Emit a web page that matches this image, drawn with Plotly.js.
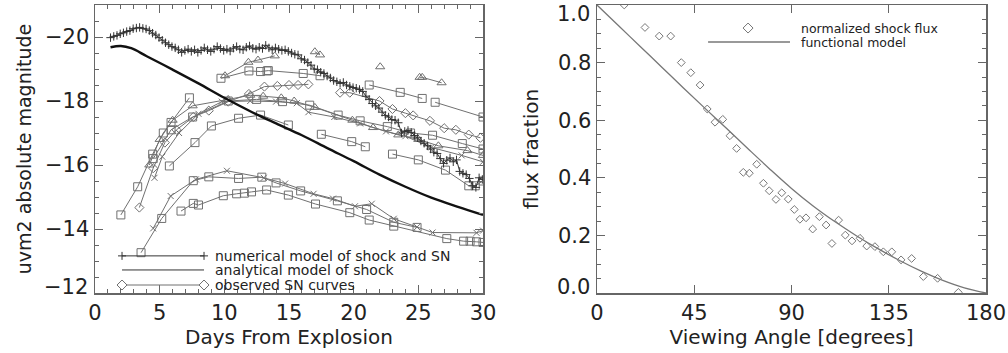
<!DOCTYPE html>
<html><head><meta charset="utf-8">
<script src="https://cdn.plot.ly/plotly-3.0.1.min.js"></script>
<style>html,body{margin:0;padding:0;background:#fff}#c{width:1008px;height:353px}</style>
</head><body><div id="c"></div>
<script>
// ---- Left panel: numerical model of shock and SN ----
const numDays = [1.2,1.45,1.7,1.95,2.2,2.45,2.7,2.95,3.2,3.45,3.7,3.95,4.2,4.45,4.7,4.95,5.2,5.45,5.7,5.95,6.2,6.45,6.7,6.95,7.2,7.45,7.7,7.95,8.2,8.45,8.7,8.95,9.2,9.45,9.7,9.95,10.2,10.45,10.7,10.95,11.2,11.45,11.7,11.95,12.2,12.45,12.7,12.95,13.2,13.45,13.7,13.95,14.2,14.45,14.7,14.95,15.2,15.45,15.7,15.95,16.2,16.45,16.7,16.95,17.2,17.45,17.7,17.95,18.2,18.45,18.7,18.95,19.2,19.45,19.7,19.95,20.2,20.45,20.7,20.95,21.2,21.45,21.7,21.95,22.2,22.45,22.7,22.95,23.2,23.45,23.7,23.95,24.2,24.45,24.7,24.95,25.2,25.45,25.7,25.95,26.2,26.45,26.7,26.95,27.2,27.45,27.7,27.95,28.2,28.45,28.7,28.95,29.2,29.45,29.7,29.95];
const numMag  = [-19.98,-20.02,-20.05,-20.1,-20.13,-20.17,-20.2,-20.26,-20.28,-20.3,-20.27,-20.25,-20.2,-20.12,-20.06,-19.98,-19.9,-19.82,-19.76,-19.7,-19.66,-19.6,-19.52,-19.58,-19.62,-19.55,-19.6,-19.52,-19.58,-19.66,-19.6,-19.55,-19.62,-19.7,-19.64,-19.58,-19.62,-19.56,-19.65,-19.7,-19.62,-19.6,-19.68,-19.72,-19.65,-19.62,-19.68,-19.64,-19.74,-19.66,-19.6,-19.66,-19.62,-19.58,-19.6,-19.55,-19.5,-19.46,-19.44,-19.32,-19.28,-19.2,-19.12,-19.0,-18.98,-18.9,-18.86,-18.78,-18.72,-18.64,-18.6,-18.55,-18.58,-18.5,-18.46,-18.42,-18.4,-18.36,-18.3,-18.15,-18.05,-17.92,-17.85,-17.78,-17.65,-17.55,-17.5,-17.42,-17.4,-17.32,-17.0,-17.05,-17.08,-17.02,-16.92,-16.85,-16.75,-16.68,-16.6,-16.5,-16.4,-16.36,-16.2,-16.05,-16.15,-16.22,-16.1,-16.16,-15.8,-15.74,-15.7,-15.58,-15.35,-15.3,-15.6,-15.55];
// analytical model of shock
const anaDays = [1.2,2.0,2.8,4,6,8,10,12,14,16,18,20,22,24,26,28,30];
const anaMag  = [-19.68,-19.72,-19.65,-19.4,-18.98,-18.55,-18.1,-17.68,-17.3,-16.93,-16.52,-16.12,-15.7,-15.32,-14.98,-14.7,-14.44];
// observed SN curves (null = gap in coverage)
const sqA_d = [2.0,3.3,4.46,5.28,5.88,7.3];
const sqA_m = [-14.44,-15.32,-16.34,-17.0,-17.33,-18.1];
const diA_d = [3.43,4.5,5.4,6.3,7.6,8.8,10.3,11.9,13.1,14.1,15.0,15.7,16.5,null,18.95,19.7,22.0,23.0,24.0,24.6,25.9,27.0,27.9,28.9,29.8];
const diA_m = [-14.67,-15.9,-16.7,-17.1,-17.5,-17.7,-17.98,-18.22,-18.45,-18.47,-18.5,-18.5,-18.52,null,-18.26,-18.26,-18.0,-17.75,-17.62,-17.55,-17.38,-17.15,-17.1,-16.95,-16.85];
const trA_d = [4.2,5.0,6.0,7.55,10.3,12.0,13.0,14.4,15.4,17.0,19.9,21.5,23.45,25.0,26.55,28.8,30.0];
const trA_m = [-16.0,-16.8,-17.4,-17.85,-18.05,-18.18,-18.15,-18.1,-18.0,-17.8,-17.4,-17.17,-16.94,-16.8,-16.6,-16.45,-16.3];
const sqB_d = [9.74,11.9,12.8,13.3,13.4,16.1,17.4,null,21.2,23.6,25.3,null,26.3,30.0];
const sqB_m = [-18.71,-18.94,-18.92,-18.94,-18.95,-18.86,-18.79,null,-18.5,-18.27,-18.08,null,-17.96,-17.5];
const trB_d = [10.05,11.86,12.6,13.9,null,17.0,17.4,null,22.05,null,25.1,25.3,26.8];
const trB_m = [-18.79,-19.21,-19.28,-19.41,null,-19.54,-19.44,null,-19.07,null,-18.74,-18.74,-18.57];
const sqC_d = [5.75,7.73,9.0,11.1,12.8,14.95,null,17.5,19.85,20.9];
const sqC_m = [-15.97,-16.7,-17.22,-17.46,-17.56,-17.25,null,-16.96,-16.73,-16.57];
const sqD_d = [4.5,5.88,7.55,10.3,12.5,14.5,16.6,18.8,20.5,22.6,24.4,26.1,28.4,30.0];
const sqD_m = [-16.2,-17.1,-17.5,-18.0,-18.05,-17.98,-17.87,-17.56,-17.38,-17.2,-17.0,-16.93,-16.67,-16.5];
const xA_d  = [4.6,5.2,6.5,8.0,9.8,12.0,14.0,15.6,16.5,18.5,20.5,22.5,24.0,26.0,28.35,30.0];
const xA_m  = [-15.6,-16.26,-17.0,-17.6,-17.98,-18.0,-17.98,-17.93,-17.65,-17.5,-17.3,-17.05,-16.9,-16.55,-16.3,-16.1];
const sqE_d = [23.0,25.0,27.1,28.9,29.4,30.0];
const sqE_m = [-16.34,-16.16,-15.84,-15.35,-15.35,-15.5];
const xB_d  = [4.5,5.85,7.8,10.2,13.05,14.7,16.9,18.4,20.1,21.4,23.1,24.9,26.1,29.5,30.0];
const xB_m  = [-14.02,-15.03,-15.55,-15.82,-15.6,-15.42,-15.1,-14.95,-14.71,-14.79,-14.32,-14.06,-13.89,-13.88,-13.95];
const sqF_d = [3.56,5.16,7.6,8.8,11.1,12.9,14.0,15.9,18.74,21.0,23.1,24.9];
const sqF_m = [-13.26,-14.33,-15.51,-15.63,-15.58,-15.62,-15.44,-15.19,-14.88,-14.61,-14.21,-14.05];
const sqG_d = [6.65,7.6,8.0,9.92,10.95,11.55,12.1,13.27,14.95,17.05,19.7,21.2,23.1,27.2,28.5,29.0,29.5,30.0];
const sqG_m = [-14.56,-14.8,-14.75,-15.04,-15.1,-15.12,-15.16,-15.22,-15.06,-14.78,-14.51,-14.28,-14.09,-13.7,-13.62,-13.62,-13.6,-13.58];
// ---- Right panel ----
const angDiamond = [12.6,22.2,28.8,34.1,39.0,43.4,47.7,51.0,54.6,58.2,61.5,64.6,67.7,70.5,73.9,77.0,79.7,82.8,85.5,88.5,91.3,93.9,96.7,99.8,102.9,106.0,108.7,111.8,114.9,118.0,121.7,124.8,128.6,132.5,136.4,140.7,145.6,151.0,157.6,167.2];
const fluxDiamond = [1.0,0.922,0.892,0.892,0.80,0.765,0.722,0.639,0.593,0.603,0.546,0.502,0.419,0.416,0.447,0.381,0.355,0.325,0.348,0.326,0.29,0.256,0.261,0.222,0.265,0.236,0.172,0.253,0.201,0.181,0.19,0.163,0.161,0.143,0.143,0.115,0.12,0.057,0.051,0.002];
const angModel = [0,10,20,30,40,50,60,70,80,90,100,110,120,130,140,150,160,170,180];
const fluxModel = [1.0,0.928,0.856,0.784,0.712,0.641,0.571,0.50,0.43,0.363,0.302,0.248,0.199,0.154,0.113,0.076,0.044,0.018,0.0];

const leftXTicks = [0,5,10,15,20,25,30];
const leftYTicks = [-20,-18,-16,-14,-12];
const leftYText  = ['\u221220','\u221218','\u221216','\u221214',''];
const rightXTicks = [0,45,90,135,180];
const rightYTicks = [0,0.2,0.4,0.6,0.8,1.0];
const rightYText  = ['','0.2','0.4','0.6','0.8',''];

const OBS = '#707070';
function obs(d, m, sym, size){
  return {x:d, y:m, mode:'lines+markers', type:'scatter', xaxis:'x', yaxis:'y', connectgaps:false, showlegend:false, hoverinfo:'skip',
    line:{color:OBS, width:1}, marker:{symbol:sym, size:size, color:OBS, line:{color:OBS, width:1}}};
}
const traces = [
  obs(sqA_d, sqA_m, 'square-open', 8),
  obs(diA_d, diA_m, 'diamond-open', 7),
  obs(trA_d, trA_m, 'triangle-up-open', 8),
  obs(sqB_d, sqB_m, 'square-open', 8),
  obs(trB_d, trB_m, 'triangle-up-open', 8),
  obs(sqC_d, sqC_m, 'square-open', 8),
  obs(sqD_d, sqD_m, 'square-open', 8),
  obs(xA_d, xA_m, 'x-thin-open', 6),
  obs(sqE_d, sqE_m, 'square-open', 8),
  obs(xB_d, xB_m, 'x-thin-open', 6),
  obs(sqF_d, sqF_m, 'square-open', 8),
  obs(sqG_d, sqG_m, 'square-open', 8),
  {x:anaDays, y:anaMag, mode:'lines', line:{color:'#111', width:2.4, shape:'spline'}, xaxis:'x', yaxis:'y', showlegend:false, hoverinfo:'skip'},
  {x:numDays, y:numMag, mode:'lines+markers', line:{color:'#333', width:1}, marker:{symbol:'cross-thin-open', size:6, line:{color:'#333', width:1}}, xaxis:'x', yaxis:'y', showlegend:false, hoverinfo:'skip'},
  {x:angModel, y:fluxModel, mode:'lines', line:{color:'#777', width:1.3, shape:'spline'}, xaxis:'x2', yaxis:'y2', showlegend:false, hoverinfo:'skip'},
  {x:angDiamond, y:fluxDiamond, mode:'markers', marker:{symbol:'diamond-open', size:6, color:'#777', line:{color:'#777', width:1}}, xaxis:'x2', yaxis:'y2', showlegend:false, hoverinfo:'skip'}
];

const AX = '#666', TXT = '#222';
const TF = {family:'DejaVu Sans, sans-serif', size:21, color:TXT};
function axis(extra){
  return Object.assign({showgrid:false, zeroline:false, showline:true, linecolor:AX, linewidth:1.5, mirror:'allticks',
    ticks:'inside', tickcolor:AX, tickwidth:1, ticklen:8, tickfont:TF}, extra);
}
function plusPath(){ return 'M-4,0 L4,0 M0,-4 L0,4'; }
function diaPath(){ return 'M0,-5 L5,0 L0,5 L-5,0 Z'; }
const shapes = [
  {type:'line', xref:'x', yref:'y', x0:2.09, x1:8.43, y0:-13.16, y1:-13.16, line:{color:'#333', width:1}},
  {type:'path', xref:'x', yref:'y', xsizemode:'pixel', ysizemode:'pixel', xanchor:2.09, yanchor:-13.16, path:plusPath(), line:{color:'#333', width:1}},
  {type:'path', xref:'x', yref:'y', xsizemode:'pixel', ysizemode:'pixel', xanchor:8.43, yanchor:-13.16, path:plusPath(), line:{color:'#333', width:1}},
  {type:'line', xref:'x', yref:'y', x0:2.09, x1:8.43, y0:-12.72, y1:-12.72, line:{color:'#333', width:1}},
  {type:'line', xref:'x', yref:'y', x0:2.09, x1:8.43, y0:-12.25, y1:-12.25, line:{color:OBS, width:1}},
  {type:'path', xref:'x', yref:'y', xsizemode:'pixel', ysizemode:'pixel', xanchor:2.09, yanchor:-12.25, path:diaPath(), line:{color:OBS, width:1}, fillcolor:'white'},
  {type:'path', xref:'x', yref:'y', xsizemode:'pixel', ysizemode:'pixel', xanchor:8.43, yanchor:-12.25, path:diaPath(), line:{color:OBS, width:1}, fillcolor:'white'},
  {type:'line', xref:'x2', yref:'y2', x0:51.4, x1:89.3, y0:0.8715, y1:0.8715, line:{color:'#777', width:1.3}},
  {type:'path', xref:'x2', yref:'y2', xsizemode:'pixel', ysizemode:'pixel', xanchor:69.9, yanchor:0.92, path:diaPath(), line:{color:'#777', width:1}}
];
const lf = {family:'DejaVu Sans, sans-serif', size:14, color:TXT};
const lf2 = {family:'DejaVu Sans, sans-serif', size:12.5, color:TXT};
const annotations = [
  {xref:'x', yref:'y', x:9.13, y:-13.16, text:'numerical model of shock and SN', showarrow:false, xanchor:'left', yanchor:'middle', font:lf},
  {xref:'x', yref:'y', x:9.13, y:-12.72, text:'analytical model of shock', showarrow:false, xanchor:'left', yanchor:'middle', font:lf},
  {xref:'x', yref:'y', x:9.13, y:-12.25, text:'observed SN curves', showarrow:false, xanchor:'left', yanchor:'middle', font:lf},
  {xref:'x2', yref:'y2', x:93.5, y:0.92, text:'normalized shock flux', showarrow:false, xanchor:'left', yanchor:'middle', font:lf2},
  {xref:'x2', yref:'y2', x:93.5, y:0.8715, text:'functional model', showarrow:false, xanchor:'left', yanchor:'middle', font:lf2},
  // end-of-axis tick labels, nudged inside the frame as in the original
  {xref:'paper', yref:'y', x:95/1008, y:-12.2, text:'\u221212', showarrow:false, xanchor:'right', yanchor:'middle', xshift:-5, font:TF},
  {xref:'paper', yref:'y2', x:597/1008, y:0.022, text:'0.0', showarrow:false, xanchor:'right', yanchor:'middle', xshift:-5, font:TF},
  {xref:'paper', yref:'y2', x:597/1008, y:0.97, text:'1.0', showarrow:false, xanchor:'right', yanchor:'middle', xshift:-5, font:TF}
];
const TT = {family:'DejaVu Sans, sans-serif', size:20, color:TXT};
const layout = {
  width:1008, height:353, margin:{l:0, r:0, t:5, b:60}, paper_bgcolor:'#fff', plot_bgcolor:'#fff', font:TF, showlegend:false,
  xaxis: axis({domain:[95/1008, 483/1008], range:[0,30], tickvals:leftXTicks, minor:{dtick:1, ticks:'inside', ticklen:4, tickcolor:AX}, title:{text:'Days From Explosion', font:TT, standoff:6}}),
  yaxis: axis({domain:[0,1], range:[-12,-21], tickvals:leftYTicks, ticktext:leftYText, minor:{dtick:0.5, ticks:'inside', ticklen:4, tickcolor:AX}, title:{text:'uvm2 absolute magnitude', font:Object.assign({}, TT, {size:19}), standoff:8}}),
  xaxis2: axis({anchor:'y2', domain:[597/1008, 986/1008], range:[0,180], tickvals:rightXTicks, title:{text:'Viewing Angle [degrees]', font:TT, standoff:6}}),
  yaxis2: axis({anchor:'x2', domain:[0,1], range:[0,1], tickvals:rightYTicks, ticktext:rightYText, minor:{dtick:0.05, ticks:'inside', ticklen:4, tickcolor:AX}, title:{text:'flux fraction', font:TT, standoff:14}}),
  shapes:shapes, annotations:annotations
};
Plotly.newPlot('c', traces, layout, {staticPlot:true});
</script></body></html>
